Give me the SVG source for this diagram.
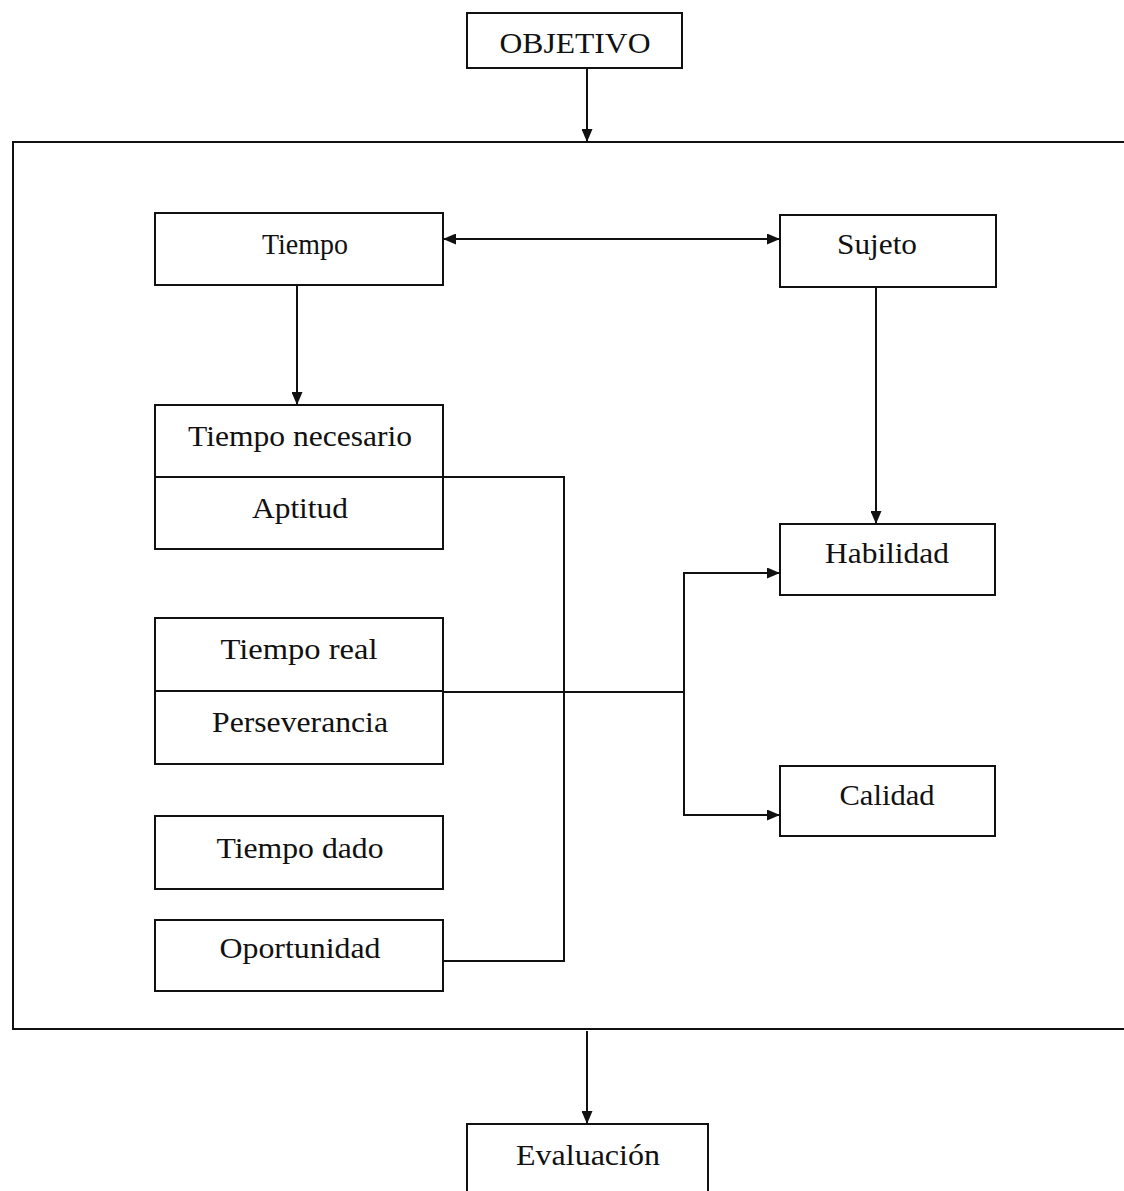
<svg xmlns="http://www.w3.org/2000/svg" width="1124" height="1191" viewBox="0 0 1124 1191">
<style>
.box{fill:#fff;stroke:#111;stroke-width:2}
.ln{fill:none;stroke:#111;stroke-width:2}
.t{font-family:"Liberation Serif","Times New Roman",serif;font-size:30px;fill:#111;text-anchor:middle}
</style>
<defs>
<marker id="ah" viewBox="0 0 13 11" refX="13" refY="5.5" markerWidth="13" markerHeight="11" markerUnits="userSpaceOnUse" orient="auto-start-reverse">
<path d="M0,0 L13,5.5 L0,11 Z" fill="#111"/>
</marker>
</defs>
<rect width="1124" height="1191" fill="#fff"/>
<g id="frame"><path class="ln" d="M1126,142 H13 V1029 H1126"/></g>
<g id="objetivo"><rect class="box" x="467" y="13" width="215" height="55"/><text class="t" x="575" y="53" textLength="151" lengthAdjust="spacingAndGlyphs">OBJETIVO</text></g>
<g id="tiempo"><rect class="box" x="155" y="213" width="288" height="72"/><text class="t" x="305" y="254" textLength="86" lengthAdjust="spacingAndGlyphs">Tiempo</text></g>
<g id="sujeto"><rect class="box" x="780" y="215" width="216" height="72"/><text class="t" x="877" y="254" textLength="80" lengthAdjust="spacingAndGlyphs">Sujeto</text></g>
<g id="tiempo-necesario"><rect class="box" x="155" y="405" width="288" height="144"/><line class="ln" x1="155" y1="477" x2="443" y2="477"/><text class="t" x="300" y="446" textLength="224" lengthAdjust="spacingAndGlyphs">Tiempo necesario</text><text class="t" x="300" y="518" textLength="96" lengthAdjust="spacingAndGlyphs">Aptitud</text></g>
<g id="tiempo-real"><rect class="box" x="155" y="618" width="288" height="146"/><line class="ln" x1="155" y1="691" x2="443" y2="691"/><text class="t" x="299" y="659" textLength="157" lengthAdjust="spacingAndGlyphs">Tiempo real</text><text class="t" x="300" y="732" textLength="176" lengthAdjust="spacingAndGlyphs">Perseverancia</text></g>
<g id="tiempo-dado"><rect class="box" x="155" y="816" width="288" height="73"/><text class="t" x="300" y="858" textLength="167" lengthAdjust="spacingAndGlyphs">Tiempo dado</text></g>
<g id="oportunidad"><rect class="box" x="155" y="920" width="288" height="71"/><text class="t" x="300" y="958" textLength="161" lengthAdjust="spacingAndGlyphs">Oportunidad</text></g>
<g id="habilidad"><rect class="box" x="780" y="524" width="215" height="71"/><text class="t" x="887" y="563" textLength="124" lengthAdjust="spacingAndGlyphs">Habilidad</text></g>
<g id="calidad"><rect class="box" x="780" y="766" width="215" height="70"/><text class="t" x="887" y="805" textLength="95" lengthAdjust="spacingAndGlyphs">Calidad</text></g>
<g id="evaluacion"><rect class="box" x="467" y="1124" width="241" height="80"/><text class="t" x="588" y="1165" textLength="144" lengthAdjust="spacingAndGlyphs">Evaluación</text></g>
<g id="connectors">
<line class="ln" x1="587" y1="68" x2="587" y2="142" marker-end="url(#ah)"/>
<line class="ln" x1="443" y1="239" x2="780" y2="239" marker-start="url(#ah)" marker-end="url(#ah)"/>
<line class="ln" x1="297" y1="285" x2="297" y2="405" marker-end="url(#ah)"/>
<line class="ln" x1="876" y1="287" x2="876" y2="524" marker-end="url(#ah)"/>
<path class="ln" d="M443,477 H564 V961 H443"/>
<line class="ln" x1="443" y1="692" x2="684" y2="692"/>
<path class="ln" d="M780,573 H684 V815 H780"/>
<line class="ln" x1="760" y1="573" x2="780" y2="573" marker-end="url(#ah)"/>
<line class="ln" x1="760" y1="815" x2="780" y2="815" marker-end="url(#ah)"/>
<line class="ln" x1="587" y1="1031" x2="587" y2="1124" marker-end="url(#ah)"/>
</g>
</svg>
